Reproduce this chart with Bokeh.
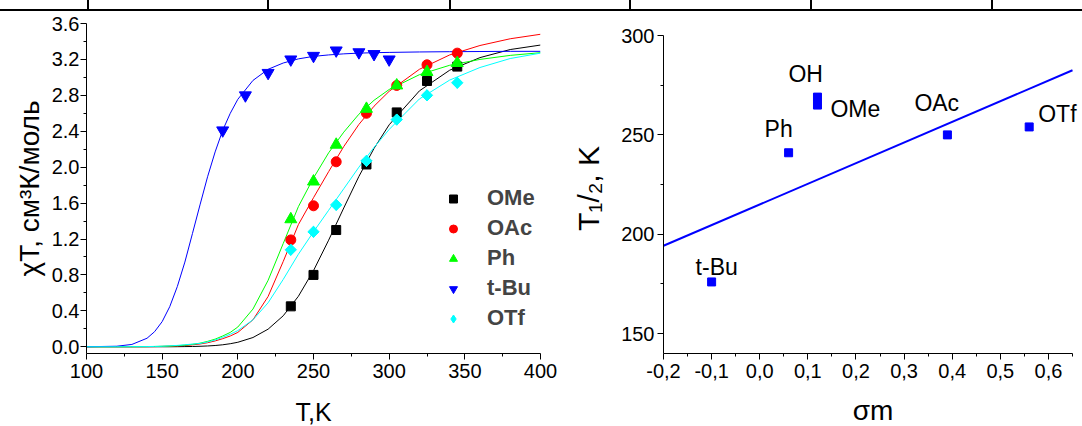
import math
from bokeh.plotting import figure
from bokeh.models import (ColumnDataSource, LabelSet, Legend, LegendItem, Div,
                          FixedTicker, CustomJSTickFormatter, Range1d)
from bokeh.layouts import column, row
from bokeh.embed import file_html
from bokeh.resources import INLINE
from bokeh.core.properties import value

# ---------------- data: left panel (chi*T vs T) ----------------
T_pts = [235, 250, 265, 285, 305, 325, 345]
chi_OMe = [0.45, 0.80, 1.30, 2.03, 2.61, 2.96, 3.12]
chi_OAc = [1.19, 1.57, 2.06, 2.60, 2.91, 3.14, 3.27]
chi_Ph = [1.42, 1.84, 2.25, 2.65, 2.91, 3.06, 3.16]
chi_OTf = [1.08, 1.28, 1.58, 2.07, 2.53, 2.80, 2.94]
T_tBu = [190, 205, 220, 235, 250, 265, 280, 290, 300]
chi_tBu = [2.41, 2.80, 3.05, 3.20, 3.24, 3.30, 3.28, 3.26, 3.20]

# fitted curves
fit_T = [100, 120, 130, 140, 145, 150, 155, 160, 165, 170, 175, 180, 185, 190, 195,
         200, 210, 220, 230, 240, 250, 260, 270, 280, 290, 300, 320, 340, 360, 380, 400]
fit_tBu = [0.0, 0.006, 0.026, 0.095, 0.168, 0.28, 0.446, 0.67, 0.943, 1.26, 1.58, 1.893,
           2.17, 2.41, 2.60, 2.756, 2.966, 3.09, 3.16, 3.206, 3.234, 3.25, 3.262, 3.27,
           3.275, 3.278, 3.283, 3.286, 3.288, 3.29, 3.29]
fit_Ph = [0.0, 0.0, 0.001, 0.002, 0.003, 0.005, 0.008, 0.012, 0.018, 0.027, 0.04, 0.06,
          0.085, 0.12, 0.16, 0.22, 0.42, 0.74, 1.15, 1.56, 1.88, 2.16, 2.39, 2.59,
          2.745, 2.865, 3.03, 3.135, 3.2, 3.245, 3.275]
fit_OAc = [0.0, 0.0, 0.0, 0.001, 0.002, 0.004, 0.006, 0.009, 0.014, 0.021, 0.031, 0.045,
           0.065, 0.09, 0.12, 0.16, 0.30, 0.56, 0.95, 1.36, 1.66, 1.95, 2.23, 2.476,
           2.679, 2.845, 3.09, 3.25, 3.355, 3.43, 3.48]
fit_OMe = [0.0, 0.0, 0.0, 0.0, 0.0, 0.0, 0.0, 0.001, 0.002, 0.003, 0.0055, 0.009, 0.014,
           0.022, 0.034, 0.05, 0.103, 0.196, 0.345, 0.562, 0.848, 1.187, 1.546, 1.897,
           2.209, 2.472, 2.85, 3.08, 3.22, 3.31, 3.36]
fit_OTf = [0.0, 0.0, 0.001, 0.002, 0.004, 0.006, 0.01, 0.015, 0.022, 0.03, 0.037,
           0.053, 0.075, 0.105, 0.14, 0.18, 0.30, 0.49, 0.75, 1.03, 1.28, 1.52, 1.76,
           2.0, 2.22, 2.42, 2.76, 2.97, 3.11, 3.21, 3.27]

left_x_ticks = [100, 150, 200, 250, 300, 350, 400]
left_y_ticks = [0.0, 0.4, 0.8, 1.2, 1.6, 2.0, 2.4, 2.8, 3.2, 3.6]

# ---------------- data: right panel (T1/2 vs sigma_m) ----------------
subst = ["t-Bu", "Ph", "OH", "OMe", "OAc", "OTf"]
sigma_m = [-0.10, 0.06, 0.12, 0.12, 0.39, 0.56]
T_half = [176, 241, 269, 265, 250, 254]
fit_sigma = [-0.2, 0.65]
fit_Thalf = [194.2, 282.5]
right_x_ticks = [-0.2, -0.1, 0.0, 0.1, 0.2, 0.3, 0.4, 0.5, 0.6]
right_y_ticks = [150, 200, 250, 300]

FONT = "Liberation Sans"

# ---------------- left figure ----------------
p1 = figure(frame_width=454, frame_height=330,
            x_range=Range1d(100, 400), y_range=Range1d(-0.075, 3.6),
            min_border_left=86, min_border_right=25, min_border_top=11, min_border_bottom=73,
            output_backend="svg", toolbar_location=None, outline_line_color=None,
            background_fill_color="white", border_fill_color="white")
p1.grid.visible = False

curves = [(fit_OMe, "black"), (fit_OAc, "red"), (fit_Ph, "#00ff00"),
          (fit_tBu, "blue"), (fit_OTf, "cyan")]
for ys, c in curves:
    p1.line(fit_T, ys, line_color=c, line_width=1)

r_ome = p1.scatter(T_pts, chi_OMe, marker="square", size=9, color="black")
r_oac = p1.scatter(T_pts, chi_OAc, marker="circle", size=10, color="red")
r_ph = p1.scatter(T_pts, chi_Ph, marker="triangle", size=12, color="#00ff00")
r_tbu = p1.scatter(T_tBu, chi_tBu, marker="inverted_triangle", size=12, color="blue")
# diamond key (used by the legend) lies fully under the rotated squares
r_otf = p1.scatter(T_pts, chi_OTf, marker="diamond", size=11, color="cyan")
p1.scatter(T_pts, chi_OTf, marker="square", angle=math.pi / 4, size=8, color="cyan")

legend = Legend(items=[LegendItem(label="OMe", renderers=[r_ome]),
                       LegendItem(label="OAc", renderers=[r_oac]),
                       LegendItem(label="Ph", renderers=[r_ph]),
                       LegendItem(label="t-Bu", renderers=[r_tbu]),
                       LegendItem(label="OTf", renderers=[r_otf])],
                location=(357, 22), padding=0, margin=0, spacing=4,
                glyph_width=20, glyph_height=25, label_height=25, label_standoff=24,
                label_text_font=FONT, label_text_font_size="22px", label_text_font_style="bold",
                border_line_alpha=0, background_fill_alpha=0)
p1.add_layout(legend)

p1.xaxis.ticker = FixedTicker(ticks=left_x_ticks, minor_ticks=[125, 175, 225, 275, 325, 375])
p1.yaxis.ticker = FixedTicker(ticks=left_y_ticks,
                              minor_ticks=[0.2, 0.6, 1.0, 1.4, 1.8, 2.2, 2.6, 3.0, 3.4])
p1.yaxis.formatter = CustomJSTickFormatter(code="return tick.toFixed(1);")
p1.xaxis.axis_label = "T,K"
p1.yaxis.axis_label = "χT, см³К/моль"

# ---------------- right figure ----------------
p2 = figure(frame_width=419, frame_height=330,
            x_range=Range1d(-0.2, -0.2 + 419 * 0.85 / 409), y_range=Range1d(140, 140 + 330 * 160 / 318),
            min_border_left=98, min_border_right=0, min_border_top=11, min_border_bottom=73,
            output_backend="svg", toolbar_location=None, outline_line_color=None,
            background_fill_color="white", border_fill_color="white")
p2.grid.visible = False
p2.line(fit_sigma, fit_Thalf, line_color="blue", line_width=2)
p2.scatter(sigma_m, T_half, marker="square", size=8, color="blue")

lab_src = ColumnDataSource(dict(x=sigma_m, y=T_half, text=subst,
                                dx=[-16, -24, -29, 13, -33, 9],
                                dy=[7, 16, 15, -12, 24, 5]))
p2.add_layout(LabelSet(x="x", y="y", text="text", source=lab_src, x_offset="dx", y_offset="dy",
                       text_font=value(FONT), text_font_size=value("23px"), text_align="left",
                       text_baseline="alphabetic", text_color="black"))

p2.xaxis.ticker = FixedTicker(ticks=right_x_ticks,
                              minor_ticks=[-0.15, -0.05, 0.05, 0.15, 0.25, 0.35, 0.45, 0.55, 0.65])
p2.yaxis.ticker = FixedTicker(ticks=right_y_ticks, minor_ticks=[175, 225, 275])
p2.xaxis.formatter = CustomJSTickFormatter(code="return tick.toFixed(1).replace('.', ',');")
p2.xaxis.bounds = (-0.2, 0.65)
p2.yaxis.bounds = (140, 300)
p2.xaxis.axis_label = "σm"
p2.yaxis.axis_label = "T₁/₂, K"

# ---------------- shared axis style ----------------
for p in (p1, p2):
    for ax in p.axis:
        ax.axis_line_color = "black"
        ax.axis_line_width = 1
        ax.major_tick_line_color = "black"
        ax.minor_tick_line_color = "black"
        ax.major_tick_in = 0
        ax.major_tick_out = 6
        ax.minor_tick_in = 0
        ax.minor_tick_out = 3
        ax.major_label_text_font = FONT
        ax.major_label_text_font_size = "20px"
        ax.major_label_text_color = "black"
        ax.axis_label_text_font = FONT
        ax.axis_label_text_font_style = "normal"
        ax.axis_label_text_color = "black"

p1.xaxis.major_label_standoff = 4
p2.xaxis.major_label_standoff = 4
p1.yaxis.major_label_standoff = 1
p2.yaxis.major_label_standoff = 3
p1.xaxis.axis_label_standoff = 17
p2.xaxis.axis_label_standoff = 14
p1.yaxis.axis_label_standoff = 4
p2.yaxis.axis_label_standoff = 13
p1.xaxis.axis_label_text_font_size = "25px"
p2.xaxis.axis_label_text_font_size = "28px"
p1.yaxis.axis_label_text_font_size = "28px"
p2.yaxis.axis_label_text_font_size = "30px"

# ---------------- top rule (table border from source page) ----------------
vl = "".join(
    f'<div style="position:absolute;left:{x}px;top:0;width:2px;height:10px;background:#000"></div>'
    for x in [87, 267, 449, 629, 810, 991])
top = Div(text=('<div style="position:relative;width:1082px;height:12px;overflow:hidden">'
                '<div style="position:absolute;left:0;top:9px;width:1082px;height:2px;background:#000"></div>'
                + vl + '</div>'), width=1082, height=12, margin=(0, 0, 0, 0))

layout = column(top, row(p1, p2, spacing=0), spacing=0)
open("out.html", "w").write(file_html(layout, INLINE))
